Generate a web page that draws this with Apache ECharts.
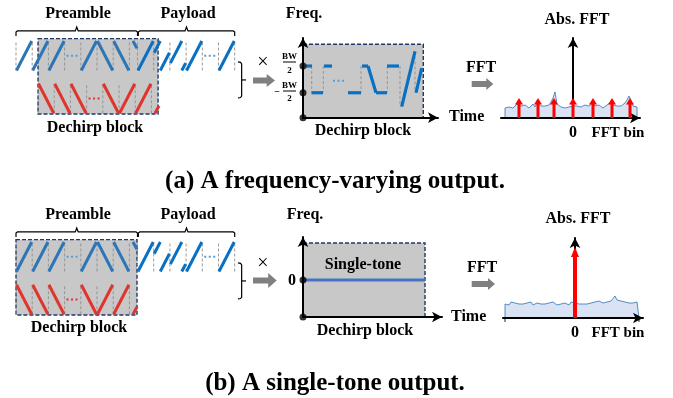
<!DOCTYPE html>
<html><head><meta charset="utf-8">
<script src="https://cdn.jsdelivr.net/npm/echarts@6.0.0/dist/echarts.min.js"></script>
<style>html,body{margin:0;padding:0;background:#fff;}#chart{width:673px;height:398px;}</style>
</head><body><div id="chart"></div>
<script>
// ===================== DATA =====================
// Preamble symbols (one symbol period each); preamble closes with a partial down-chirp
const preambleSymbols = ['up', 'up', 'up', 'gap', 'up', 'down', 'down'];
const preambleTailLen = 0.25;   // symbols of the trailing partial down-chirp
const preambleSpan = 7.5;       // symbols covered by the "Preamble" brace
// Payload chirps: start frequency (units of BW/2), null = "..."
const payloadStartFreq = [-1.0, 0.2, -0.5, -1.0, null, -1.0];
// Dechirp block: start (symbols) and length, in (a) and (b)
const dechirpStartA = 1.36, dechirpLenA = 7.41;
const dechirpStartB = 0.0,  dechirpLenB = 7.47;

// (a) dechirped frequency vs time: segments [t0, f0, t1, f1] (f in BW/2 units)
const dechirpSegA = [
  [0.3, 1, 0.9, 1], [0.85, -1, 2.0, -1], [2.1, 1, 2.9, 1],
  [4.5, -1, 5.8, -1], [5.9, 1, 6.5, 1], [6.5, 1, 7.3, -1], [7.3, -1, 8.4, -1],
  [8.4, 1, 9.6, 1], [9.87, -2.04, 11.2, 2.09], [11.3, -1, 11.87, 0.85]
];
const dechirpJumpA = [[0.87, 1, -1], [2.03, 1, -1], [5.8, 1, -1], [8.43, 1, -1], [9.7, 1, -2.04], [11.2, 2.09, -0.79]];
const dechirpDotsA = [3.0, 4.2, -0.1];
const blockEndA = 12.03, blockTopA = 2.63;
// (b) single tone
const toneFreqB = 0;
const blockEndB = 12.2, blockTopB = 2.77;

// FFT magnitude (noise floor) on a regular bin grid
const fftStartBinA = -68, fftStepA = 2;
const fftNoiseA = [10,12,11,13,10,12,14,16,12,11, 13,12,10,12,14,11,15,13,12,11,
  12,14,13,16,20,26,14,12,11,13, 10,12,11,13,12,10,12,14,11,12,
  13,11,12,14,15,12,11,13,12,10, 12,13,14,16,13,11,12,14,12,13,
  15,18,22,17,12,13,11];
const fftPeakBinsA = [-54, -35, -19, 0, 20, 39, 57];
const fftPeakA = 20;
const fftStartBinB = -70, fftStepB = 2;
const fftNoiseB = [14,15,13,16,14,15,13,14,16,14, 13,15,14,16,13,14,15,13,14,16,
  14,13,15,14,16,14,13,15,14,13, 15,14,13,16,14,15,13,14,15,14,
  16,14,13,15,14,16,15,17,16,15, 17,16,18,17,19,22,18,16,17,15,
  16,14,15,13,15,14,16,14];
const fftPeakBinsB = [0];
const fftPeakB = 71;

// ===================== RENDERING =====================
const SERIF = '"Liberation Serif", "Times New Roman", serif';
const BLUE = '#2e75b6', BLUE2 = '#0a70c2', RED = '#e0352d', DOTBLUE = '#5b9bd5';
const INS = 0.03, RED_ROW = -2.9;

function polySeries(gi, polys, style, z) {
  return {
    type: 'custom', coordinateSystem: 'cartesian2d', xAxisIndex: gi, yAxisIndex: gi,
    silent: true, animation: false, z: z, clip: false,
    data: polys.map(p => p[0]),
    renderItem: function (params, api) {
      const pts = polys[params.dataIndex].map(p => api.coord(p));
      return { type: 'polyline', shape: { points: pts }, style: Object.assign({ fill: null }, style) };
    }
  };
}
function rectSeries(gi, rects, style, z) {
  return {
    type: 'custom', coordinateSystem: 'cartesian2d', xAxisIndex: gi, yAxisIndex: gi,
    silent: true, animation: false, z: z, clip: false,
    data: rects,
    renderItem: function (params, api) {
      const a = api.coord([api.value(0), api.value(3)]);
      const b = api.coord([api.value(2), api.value(1)]);
      return { type: 'rect', shape: { x: a[0], y: a[1], width: b[0] - a[0], height: b[1] - a[1] }, style: style };
    }
  };
}
function arrowSeries(gi, bins, h, shaftW, headW, headL) {
  return {
    type: 'custom', coordinateSystem: 'cartesian2d', xAxisIndex: gi, yAxisIndex: gi,
    silent: true, animation: false, z: 6, clip: false,
    data: bins.map(b => [b, h]),
    renderItem: function (params, api) {
      const base = api.coord([api.value(0), 0]);
      const tip = api.coord([api.value(0), api.value(1)]);
      return { type: 'group', children: [
        { type: 'rect', shape: { x: base[0] - shaftW / 2, y: tip[1] + headL - 0.5, width: shaftW, height: base[1] - tip[1] - headL + 0.5 }, style: { fill: '#ff0000' } },
        { type: 'polygon', shape: { points: [[tip[0], tip[1]], [tip[0] - headW / 2, tip[1] + headL], [tip[0] + headW / 2, tip[1] + headL]] }, style: { fill: '#ff0000' } }
      ] };
    }
  };
}

function chirpPanel(gi, dStart, dLen) {
  const blue = [], pay = [], red = [], dashB = [], dashR = [], dotsB = [], dotsR = [];
  preambleSymbols.forEach((s, k) => {
    dashB.push([[k, -1], [k, 1]]);
    dashR.push([[dStart + k, RED_ROW - 1], [dStart + k, RED_ROW + 1]]);
    if (s === 'gap') {
      dotsB.push([[k + 0.12, 0], [k + 0.85, 0]]);
      dotsR.push([[dStart + k + 0.12, RED_ROW], [dStart + k + 0.85, RED_ROW]]);
      return;
    }
    const up = s === 'up';
    blue.push([[k + INS, up ? -1 : 1], [k + 1 - INS, up ? 1 : -1]]);
    red.push([[dStart + k + INS, RED_ROW + (up ? 1 : -1)], [dStart + k + 1 - INS, RED_ROW + (up ? -1 : 1)]]);
  });
  const n = preambleSymbols.length;
  dashB.push([[n, -1], [n, 1]]);
  dashR.push([[dStart + n, RED_ROW - 1], [dStart + n, RED_ROW + 1]]);
  const t0 = preambleSpan - INS - preambleTailLen, t1 = preambleSpan - INS;
  blue.push([[t0, 1], [t1, 1 - 2 * preambleTailLen]]);
  red.push([[dStart + t0, RED_ROW - 1], [dStart + t1, RED_ROW - 1 + 2 * preambleTailLen]]);
  dashB.push([[preambleSpan, -1], [preambleSpan, 1]]);
  payloadStartFreq.forEach((f0, j) => {
    const k = preambleSpan + j;
    dashB.push([[k + 1, -1], [k + 1, 1]]);
    if (f0 === null) { dotsB.push([[k + 0.12, 0], [k + 0.85, 0]]); return; }
    const x0 = k + INS, span = 1 - 2 * INS, tw = (1 - f0) / 2;
    if (tw >= 1) pay.push([[x0, f0], [x0 + span, f0 + 2]]);
    else {
      pay.push([[x0, f0], [x0 + span * tw, 1]]);
      pay.push([[x0 + span * tw, -1], [x0 + span, -1 + 2 * (1 - tw)]]);
    }
  });
  // braces
  const bl = 1.68, be = 1.34, bp = 1.95, d = 0.09;
  const brace = (x0, x1) => { const m = (x0 + x1) / 2; return [[x0, be], [x0, bl - 0.07], [x0 + d, bl], [m - d, bl], [m, bp], [m + d, bl], [x1 - d, bl], [x1, bl - 0.07], [x1, be]]; };
  const braces = [brace(0, preambleSpan), brace(preambleSpan + 0.05, preambleSpan + payloadStartFreq.length)];
  const rb = [[13.70, -0.42], [13.86, -0.45], [13.93, -0.55], [13.93, -2.73], [13.86, -2.83], [13.70, -2.86]];
  const rbTick = [[13.93, -1.64], [14.2, -1.64]];
  braces.push(rb, rbTick);
  return [
    rectSeries(gi, [[dStart, RED_ROW - 1.05, dStart + dLen, 1.16]], { fill: '#c8c8c8', stroke: '#203864', lineWidth: 1.4, lineDash: [4, 2] }, 1),
    polySeries(gi, dashB.concat(dashR), { stroke: '#8f8f8f', lineWidth: 0.9, lineDash: [3, 2] }, 2),
    polySeries(gi, blue, { stroke: BLUE, lineWidth: 3 }, 3),
    polySeries(gi, pay, { stroke: BLUE2, lineWidth: 3 }, 3),
    polySeries(gi, red, { stroke: RED, lineWidth: 3 }, 3),
    polySeries(gi, dotsB, { stroke: DOTBLUE, lineWidth: 2, lineDash: [2, 2.5] }, 3),
    polySeries(gi, dotsR, { stroke: RED, lineWidth: 2, lineDash: [2, 2.5] }, 3),
    polySeries(gi, braces, { stroke: '#000', lineWidth: 1.2 }, 3)
  ];
}

const series = [];
series.push(...chirpPanel(0, dechirpStartA, dechirpLenA));
series.push(...chirpPanel(1, dechirpStartB, dechirpLenB));

// middle (a)
series.push(rectSeries(2, [[0, -2.87, blockEndA, blockTopA]], { fill: '#c8c8c8', stroke: '#203864', lineWidth: 1.4, lineDash: [4, 2] }, 1));
series.push(polySeries(2, dechirpJumpA.map(j => [[j[0], j[1]], [j[0], j[2]]]), { stroke: '#8f8f8f', lineWidth: 0.9, lineDash: [3, 2] }, 2));
series.push(polySeries(2, dechirpSegA.map(s => [[s[0], s[1]], [s[2], s[3]]]), { stroke: BLUE2, lineWidth: 3.2 }, 3));
series.push(polySeries(2, [[[dechirpDotsA[0], dechirpDotsA[2]], [dechirpDotsA[1], dechirpDotsA[2]]]], { stroke: DOTBLUE, lineWidth: 2, lineDash: [2, 2.5] }, 3));
series.push({ type: 'scatter', xAxisIndex: 2, yAxisIndex: 2, data: [[0, 1], [0, -1], [0, -2.87]], symbolSize: 7, itemStyle: { color: '#000' }, z: 7, silent: true, clip: false, animation: false });
// middle (b)
series.push(rectSeries(3, [[0, -2.77, blockEndB, blockTopB]], { fill: '#c8c8c8', stroke: '#203864', lineWidth: 1.4, lineDash: [4, 2] }, 1));
series.push(polySeries(3, [[[0, toneFreqB], [blockEndB, toneFreqB]]], { stroke: '#4472c4', lineWidth: 3 }, 3));
series.push({ type: 'scatter', xAxisIndex: 3, yAxisIndex: 3, data: [[0, toneFreqB], [0, -2.77]], symbolSize: 7, itemStyle: { color: '#000' }, z: 7, silent: true, clip: false, animation: false });

// right (a) / (b)
function noiseData(start, step, vals) {
  const d = vals.map((v, i) => [start + step * i, v]);
  return [[start, 0]].concat(d, [[start + step * (vals.length - 1), 0]]);
}
series.push({ type: 'line', xAxisIndex: 4, yAxisIndex: 4, data: noiseData(fftStartBinA, fftStepA, fftNoiseA), symbol: 'none', lineStyle: { color: BLUE, width: 0.8 }, areaStyle: { color: '#dae3f3', opacity: 1 }, silent: true, animation: false, z: 2 });
series.push(arrowSeries(4, fftPeakBinsA, fftPeakA, 3, 8, 6.5));
series.push({ type: 'line', xAxisIndex: 5, yAxisIndex: 5, data: noiseData(fftStartBinB, fftStepB, fftNoiseB), symbol: 'none', lineStyle: { color: BLUE, width: 0.8 }, areaStyle: { color: '#dae3f3', opacity: 1 }, silent: true, animation: false, z: 2 });
const lastB = fftStartBinB + fftStepB * (fftNoiseB.length - 1);
series.push(polySeries(5, [[[fftStartBinB, 0], [fftStartBinB, -4]], [[lastB, 0], [lastB, -4]]], { stroke: '#222', lineWidth: 1 }, 3));
series.push(arrowSeries(5, fftPeakBinsB, fftPeakB, 4, 8, 10));

// axes
const grids = [
  { left: 16, top: 23.3, width: 234.9, height: 94.4 },
  { left: 16, top: 224.3, width: 234.9, height: 94.4 },
  { left: 303, top: 38, width: 135, height: 79.7 },
  { left: 303, top: 237, width: 139, height: 80 },
  { left: 501, top: 38, width: 139, height: 80 },
  { left: 503, top: 238, width: 140, height: 80 }
];
const xr = [[0, 14.5], [0, 14.5], [0, 13.5], [0, 13.9], [-72, 67], [-72, 68]];
const yr = [[-4.2, 2.2], [-4.2, 2.2], [-2.87, 3.1], [-2.77, 3.22], [0, 80], [0, 80]];
function axis(i, r, isX) {
  const shown = i >= 2;
  return {
    type: 'value', gridIndex: i, min: r[0], max: r[1], show: shown, z: 5,
    axisLine: { show: shown, onZero: i >= 4, symbol: ['none', 'arrow'], symbolSize: [8, 10], lineStyle: { color: '#000', width: 2 } },
    axisTick: { show: false }, axisLabel: { show: false }, splitLine: { show: false }
  };
}

// texts and decorations
function txt(s, x, y, size, extra) {
  return Object.assign({ type: 'text', x: x, y: y, z: 100, silent: true,
    style: { text: s, font: 'bold ' + size + 'px ' + SERIF, fill: '#000', textAlign: 'center', textVerticalAlign: 'middle' } }, extra || {});
}
function fatArrow(x0, x1, cy, sh, hh, hl) {
  return { type: 'polygon', z: 50, silent: true, shape: { points: [[x0, cy - sh / 2], [x1 - hl, cy - sh / 2], [x1 - hl, cy - hh / 2], [x1, cy], [x1 - hl, cy + hh / 2], [x1 - hl, cy + sh / 2], [x0, cy + sh / 2]] }, style: { fill: '#808080' } };
}
function hline(x0, x1, y) { return { type: 'line', z: 50, silent: true, shape: { x1: x0, y1: y, x2: x1, y2: y }, style: { stroke: '#000', lineWidth: 1 } }; }
const graphics = [
  txt('Preamble', 78, 14, 16), txt('Payload', 188, 14, 16),
  txt('Dechirp block', 95, 128, 16), txt('Freq.', 304, 14, 16),
  { type: 'text', x: 449, y: 117, z: 100, style: { text: 'Time', font: 'bold 16px ' + SERIF, fill: '#000', textAlign: 'left', textVerticalAlign: 'middle' } },
  txt('Dechirp block', 363, 131, 16),
  txt('BW', 289.5, 57, 9), hline(283, 296, 62), txt('2', 289.5, 70.5, 9),
  txt('−', 277, 92.5, 10), txt('BW', 289.5, 86, 9), hline(283, 296, 91), txt('2', 289.5, 99, 9),
  { type: 'text', x: 263, y: 63, z: 100, style: { text: '×', font: '20px ' + SERIF, fill: '#000', textAlign: 'center', textVerticalAlign: 'middle' } },
  fatArrow(253, 275, 80.5, 6, 13, 8.3),
  txt('FFT', 481, 68, 16), fatArrow(471.7, 493.3, 84, 6, 12, 7),
  txt('Abs. FFT', 577, 20, 16), txt('0', 573, 133, 16), txt('FFT bin', 618, 133, 15),
  txt('(a) A frequency-varying output.', 335, 182, 25),

  txt('Preamble', 78, 215, 16), txt('Payload', 188, 215, 16),
  txt('Dechirp block', 79, 328, 16), txt('Freq.', 305, 215, 16),
  { type: 'text', x: 451, y: 317, z: 100, style: { text: 'Time', font: 'bold 16px ' + SERIF, fill: '#000', textAlign: 'left', textVerticalAlign: 'middle' } },
  txt('Single-tone', 363, 265, 16), txt('0', 292, 281, 16),
  txt('Dechirp block', 365, 331, 16),
  { type: 'text', x: 263, y: 264, z: 100, style: { text: '×', font: '20px ' + SERIF, fill: '#000', textAlign: 'center', textVerticalAlign: 'middle' } },
  fatArrow(253, 276.7, 280.5, 6, 15, 8.5),
  txt('FFT', 482, 268, 16), fatArrow(471.7, 495, 284, 6, 12, 7),
  txt('Abs. FFT', 578, 219, 16), txt('0', 575, 333, 16), txt('FFT bin', 618, 333, 15),
  txt('(b) A single-tone output.', 335, 384, 25)
];

const chart = echarts.init(document.getElementById('chart'), null, { renderer: 'canvas' });
chart.setOption({
  animation: false,
  backgroundColor: '#fff',
  grid: grids,
  xAxis: xr.map((r, i) => axis(i, r, true)),
  yAxis: yr.map((r, i) => axis(i, r, false)),
  series: series,
  graphic: { elements: graphics }
});
</script></body></html>
